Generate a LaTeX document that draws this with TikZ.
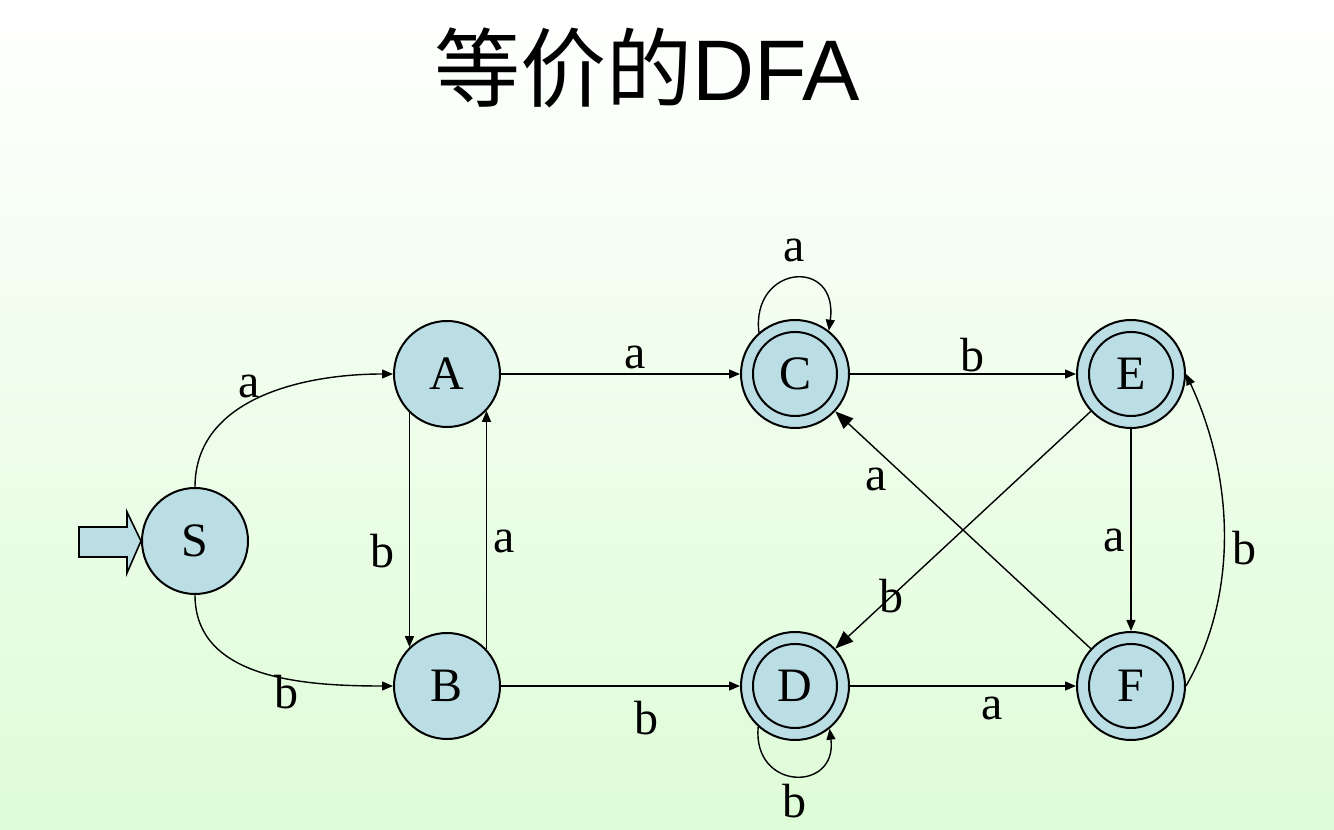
\documentclass[tikz,border=0pt]{standalone}
\usepackage{fontspec}
\setmainfont{Liberation Serif}
\newfontfamily\cjk{Noto Sans CJK SC}
\newfontfamily\titlesans{Liberation Sans}
\usepackage{xcolor}
\usetikzlibrary{arrows.meta,positioning}

\definecolor{statefill}{RGB}{186,222,228}
\definecolor{bggreen}{RGB}{222,252,215}

\begin{document}
\begin{tikzpicture}[
  x=0.5pt, y=0.5pt,
  state/.style={draw, circle, line width=1pt, fill=statefill, minimum size=53pt,
                inner sep=0pt, font=\fontsize{24}{28}\selectfont},
  accept/.style={state, minimum size=54pt},
  arrow/.style={-{Triangle[length=5.5pt,width=4.5pt]}, line width=0.7pt},
  bigarrow/.style={-{Triangle[length=9pt,width=7pt]}, line width=0.7pt},
  lbl/.style={font=\fontsize{24}{28}\selectfont, inner sep=2pt},
]
% background
\shade[top color=white, bottom color=bggreen] (0,0) rectangle (1334,830);
\useasboundingbox (0,0) rectangle (1334,830);

\node (title) at (647,762) {\fontsize{43}{50}\selectfont\cjk 等价的\titlesans DFA};

% states
\node[state] (S) at (195,289) {S};
\node[state] (A) at (447,456) {A};
\node[state] (B) at (447,144) {B};
\node[accept] (C) at (795,456) {C};
\node[accept] (D) at (795,144) {D};
\node[accept] (E) at (1131,456) {E};
\node[accept] (F) at (1131,144) {F};
\foreach \n in {C,D,E,F}
  \draw[line width=1pt] (\n.center) circle (21pt);

% start marker
\draw[line width=0.8pt, fill=statefill] (S.west) -- ++(-14,29) -- ++(0,-15) -- ++(-48,0)
  -- ++(0,-30) -- ++(48,0) -- ++(0,-16) -- cycle;

% transitions
\draw[arrow] (S.north) to[out=90,in=180] node[lbl, above, pos=0.45] {a} (A);
\draw[arrow] (S.south) to[out=-90,in=180] node[lbl, below=-4pt, pos=0.6] {b} (B);
\draw[arrow] (A.226) -- node[lbl, left=5pt, pos=0.59] {b} (B.134);
\draw[arrow] (B.43) -- node[lbl, right=1pt, pos=0.45] {a} (A.-43);
\draw[arrow] (A) -- node[lbl, above, pos=0.56] {a} (C);
\draw[arrow] (B) -- node[lbl, below=5pt, pos=0.61] {b} (D);
\draw[arrow] (C) -- node[lbl, above=-1.5pt, pos=0.54] {b} (E);
\draw[arrow] (D) -- node[lbl, below=3pt, pos=0.63] {a} (F);
\draw[arrow] (E) -- node[lbl, left=1pt, pos=0.55] {a} (F);
\draw[arrow] (F.east) to[out=60,in=-65,looseness=0.9] node[lbl, right=2pt, pos=0.45] {b} (E.east);
\draw[arrow] (C.131) .. controls +(-8,68) and +(10,74) .. node[lbl, above=6pt] {a} (C.52);
\draw[arrow] (D.228) .. controls +(-6,-64) and +(8,-64) .. node[lbl, below=2pt] {b} (D.309);
\draw[bigarrow] (E) -- node[lbl, pos=0.78] {b} (D);
\draw[bigarrow] (F) -- node[lbl, below left, pos=0.78] {a} (C);
\end{tikzpicture}
\end{document}
